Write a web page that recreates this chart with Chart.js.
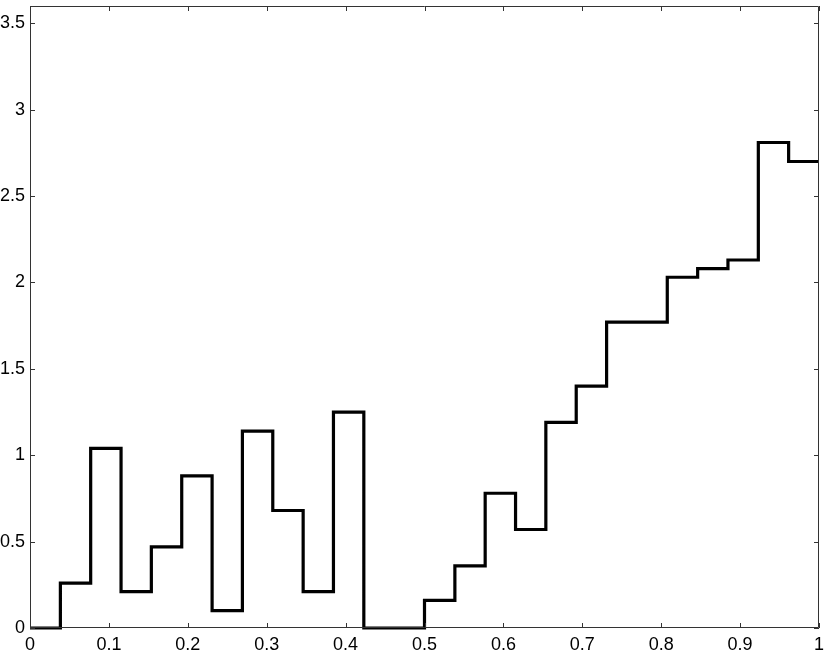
<!DOCTYPE html>
<html>
<head>
<meta charset="utf-8">
<script src="https://cdn.jsdelivr.net/npm/chart.js@4/dist/chart.umd.min.js"></script>
<style>
html,body{margin:0;padding:0;background:#fff;}
#wrap{width:830px;height:652px;position:relative;}
</style>
</head>
<body>
<div id="wrap"><canvas id="c" width="830" height="652"></canvas></div>
<script>
// Left edges of the 26 histogram bins (the last entry closes the final bin at 1)
const binEdges = [0, 0.0385, 0.0769, 0.1154, 0.1538, 0.1923, 0.2308, 0.2692, 0.3077, 0.3462,
  0.3846, 0.4231, 0.4615, 0.5, 0.5385, 0.5769, 0.6154, 0.6538, 0.6923, 0.7308,
  0.7692, 0.8077, 0.8462, 0.8846, 0.9231, 0.9615, 1];
// Height of each bin (26 values)
const binValues = [0, 0.26, 1.04, 0.21, 0.47, 0.88, 0.10, 1.14, 0.68, 0.21,
  1.25, 0, 0, 0.16, 0.36, 0.78, 0.57, 1.19, 1.40, 1.77,
  1.77, 2.03, 2.08, 2.13, 2.81, 2.70];
const xTicks = [0, 0.1, 0.2, 0.3, 0.4, 0.5, 0.6, 0.7, 0.8, 0.9, 1];
const xTickLabels = ['0', '0.1', '0.2', '0.3', '0.4', '0.5', '0.6', '0.7', '0.8', '0.9', '1'];
const yTicks = [0, 0.5, 1, 1.5, 2, 2.5, 3, 3.5];
const yTickLabels = ['0', '0.5', '1', '1.5', '2', '2.5', '3', '3.5'];

const points = binEdges.map((x, i) => ({ x: x, y: binValues[Math.min(i, binValues.length - 1)] }));

Chart.defaults.font.family = 'Arial, "Liberation Sans", sans-serif';
Chart.defaults.font.size = 18;
Chart.defaults.color = '#000';

const frame = {
  id: 'frame',
  afterDraw(chart) {
    const { ctx, chartArea: a, scales } = chart;
    ctx.save();
    ctx.strokeStyle = '#333';
    ctx.lineWidth = 1;
    ctx.beginPath();
    ctx.rect(a.left + 0.5, a.top + 0.5, a.right - a.left - 1, a.bottom - a.top - 1);
    const L = 5;
    xTicks.forEach(v => {
      const px = Math.round(scales.x.getPixelForValue(v)) + 0.5;
      ctx.moveTo(px, a.bottom); ctx.lineTo(px, a.bottom - L);
      ctx.moveTo(px, a.top); ctx.lineTo(px, a.top + L);
    });
    yTicks.forEach(v => {
      const py = Math.round(scales.y.getPixelForValue(v)) + 0.5;
      ctx.moveTo(a.left, py); ctx.lineTo(a.left + L, py);
      ctx.moveTo(a.right, py); ctx.lineTo(a.right - L, py);
    });
    ctx.stroke();
    ctx.restore();
  }
};

new Chart(document.getElementById('c'), {
  type: 'line',
  data: {
    datasets: [{
      data: points,
      stepped: 'before',
      borderColor: '#000',
      borderWidth: 3.2,
      pointRadius: 0,
      fill: false,
      clip: 6,
      borderJoinStyle: 'miter',
      borderCapStyle: 'butt'
    }]
  },
  options: {
    responsive: false,
    animation: false,
    devicePixelRatio: 1,
    layout: { padding: { left: 0, top: 6, right: 11, bottom: 0 } },
    plugins: { legend: { display: false }, tooltip: { enabled: false } },
    scales: {
      x: {
        type: 'linear', min: 0, max: 1,
        grid: { display: false, drawTicks: false },
        border: { display: false },
        afterBuildTicks: s => { s.ticks = xTicks.map(v => ({ value: v })); },
        afterFit: s => { s.height = 24; s.paddingLeft = 0; s.paddingRight = 0; },
        ticks: {
          padding: 6,
          color: '#000',
          font: { size: 18, family: 'Arial, "Liberation Sans", sans-serif' },
          maxRotation: 0,
          autoSkip: false,
          callback: (v) => xTickLabels[xTicks.indexOf(v)] ?? ''
        }
      },
      y: {
        type: 'linear', min: 0, max: 3.6,
        grid: { display: false, drawTicks: false },
        border: { display: false },
        afterBuildTicks: s => { s.ticks = yTicks.map(v => ({ value: v })); },
        afterFit: s => { s.width = 30; s.paddingTop = 0; s.paddingBottom = 0; },
        ticks: {
          padding: 5,
          color: '#000',
          font: { size: 18, family: 'Arial, "Liberation Sans", sans-serif' },
          autoSkip: false,
          callback: (v) => yTickLabels[yTicks.indexOf(v)] ?? ''
        }
      }
    }
  },
  plugins: [frame]
});
</script>
</body>
</html>
